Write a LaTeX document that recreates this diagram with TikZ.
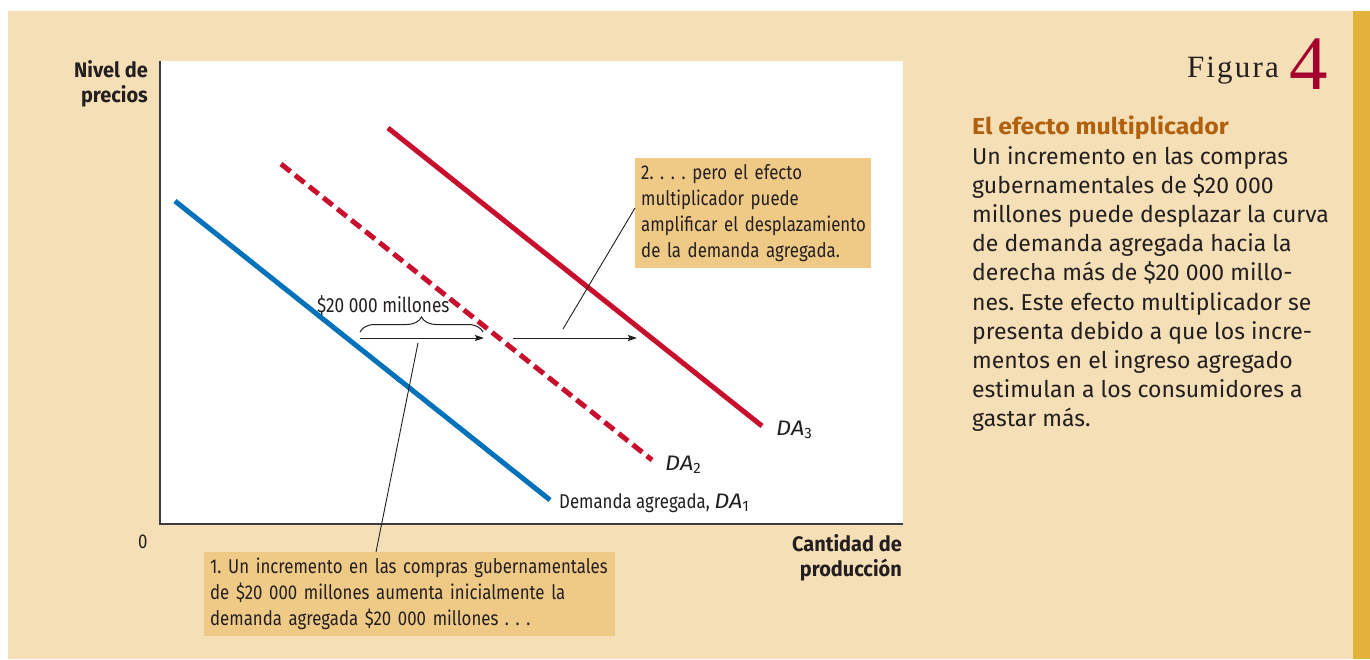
\documentclass[tikz,border=0pt]{standalone}
\usepackage{fontspec}
\usetikzlibrary{arrows.meta,decorations.pathreplacing}
\newfontfamily\fira{Fira Sans}
\newfontfamily\firatitle[FakeStretch=1.08]{Fira Sans}
\newfontfamily\firawide[FakeStretch=1.12]{Fira Sans}
\newfontfamily\cond[FakeStretch=0.84]{Fira Sans}
\newfontfamily\semicond[FakeStretch=0.95]{Fira Sans}
\newfontfamily\figserif[LetterSpace=7]{Liberation Serif}
\newfontfamily\numserif{Liberation Serif}
\definecolor{beige}{HTML}{F5DFB6}
\definecolor{gold}{HTML}{E3B23A}
\definecolor{boxfill}{HTML}{EFCA87}
\definecolor{dablue}{HTML}{0072BC}
\definecolor{dared}{HTML}{C8102E}
\definecolor{figred}{HTML}{A6002F}
\definecolor{titlebrown}{HTML}{B1600E}
\definecolor{ink}{HTML}{231F20}
\definecolor{axisgray}{HTML}{3C3C3C}
\newcommand{\dasub}[1]{\raisebox{-3pt}{\fira\fontsize{15}{15}\selectfont #1}}
\newcommand{\daname}{{\firawide\itshape\fontsize{21}{24}\selectfont DA}}
\begin{document}
\frenchspacing
\begin{tikzpicture}[x=1pt,y=-1pt,
  every node/.style={inner sep=0pt, text=ink},
  curve/.style={line width=5pt},
  leader/.style={draw=ink, line width=0.9pt},
  shiftarrow/.style={draw=ink, line width=1pt, -{Stealth[length=9pt,width=6pt,inset=1.5pt]}},
  notebox/.style={fill=boxfill, anchor=north west, inner xsep=6pt, inner ysep=0pt, align=left, font=\cond\fontsize{20}{26}\selectfont},
  axlabel/.style={font=\semicond\bfseries\fontsize{21}{25}\selectfont, align=right},
  curvelabel/.style={font=\cond\fontsize{20}{24}\selectfont, anchor=base west},
]
\useasboundingbox (0,0) rectangle (1370,659);
\fill[white] (0,0) rectangle (1370,659);
\fill[beige] (8,11) rectangle (1353,659);
\fill[gold] (1353,11) rectangle (1370,659);
\fill[white] (160,61) rectangle (903,524);
\draw[axisgray, line width=1.5pt] (160,61) -- (160,524) -- (903,524);

% curves
\draw[curve, dablue] (175,201) -- (550,500);
\draw[curve, dared, dash pattern=on 12pt off 6pt] (281,164) -- (652,460);
\draw[curve, dared] (388,128) -- (762,426);

\node[curvelabel] (da1) at (559,508) {Demanda agregada, \daname\dasub{1}};
\node[curvelabel] (da2) at (665,470) {\daname\dasub{2}};
\node[curvelabel] (da3) at (776,435) {\daname\dasub{3}};

% shift arrows and brace
\coordinate (a1s) at (360,338); \coordinate (a1e) at (484,338);
\coordinate (a2s) at (513,338); \coordinate (a2e) at (637,338);
\draw[shiftarrow] (a1s) -- (a1e);
\draw[shiftarrow] (a2s) -- (a2e);
\coordinate (bl) at (360,332); \coordinate (br) at (483,332);
\draw[ink, line width=1pt, decorate, decoration={brace, amplitude=15pt, aspect=0.5}] (bl) -- (br);
\node[curvelabel, font=\cond\fontsize{20.5}{24}\selectfont] (amt) at (317,312) {\$20 000 millones};

% note boxes
\node[notebox, minimum width=236pt, minimum height=110pt, text width=224pt] (n2) at (635,158)
  {\mbox{2. . . . pero el efecto}\\\mbox{multiplicador puede}\\\mbox{amplificar el desplazamiento}\\\mbox{de la demanda agregada.}};
\node[notebox, minimum width=411pt, minimum height=84pt, text width=399pt] (n1) at (204,552)
  {\mbox{1. Un incremento en las compras gubernamentales}\\\mbox{de \$20 000 millones aumenta inicialmente la}\\\mbox{demanda agregada \$20 000 millones . . .}};

\coordinate (l2s) at (563,329); \coordinate (l2e) at (635,208);
\draw[leader] (l2s) -- (l2e);
\coordinate (l1s) at (418,343); \coordinate (l1e) at (376,552);
\draw[leader] (l1s) -- (l1e);

% axis labels
\node[axlabel, anchor=north east] (ylab) at (148,60) {Nivel de\\precios};
\node[axlabel, anchor=north east] (xlab) at (902,534) {Cantidad de\\producción};
\node[curvelabel] (zero) at (138,548) {0};

% figure title and caption
\node[anchor=base east, font=\figserif\fontsize{31}{31}\selectfont] (fig) at (1279,77) {Figura};
\node[anchor=base west, font=\numserif\fontsize{77}{77}\selectfont, text=figred] (num) at (1289,89) {4};
\node[anchor=north west, align=left, font=\fira\fontsize{23}{29.2}\selectfont] (cap) at (972,116)
  {{\firatitle\bfseries\color{titlebrown}El efecto multiplicador}\\
   Un incremento en las compras\\
   gubernamentales de \$20 000\\
   millones puede desplazar la curva\\
   de demanda agregada hacia la\\
   derecha más de \$20 000 millo-\\
   nes. Este efecto multiplicador se\\
   presenta debido a que los incre-\\
   mentos en el ingreso agregado\\
   estimulan a los consumidores a\\
   gastar más.};
\end{tikzpicture}
\end{document}
